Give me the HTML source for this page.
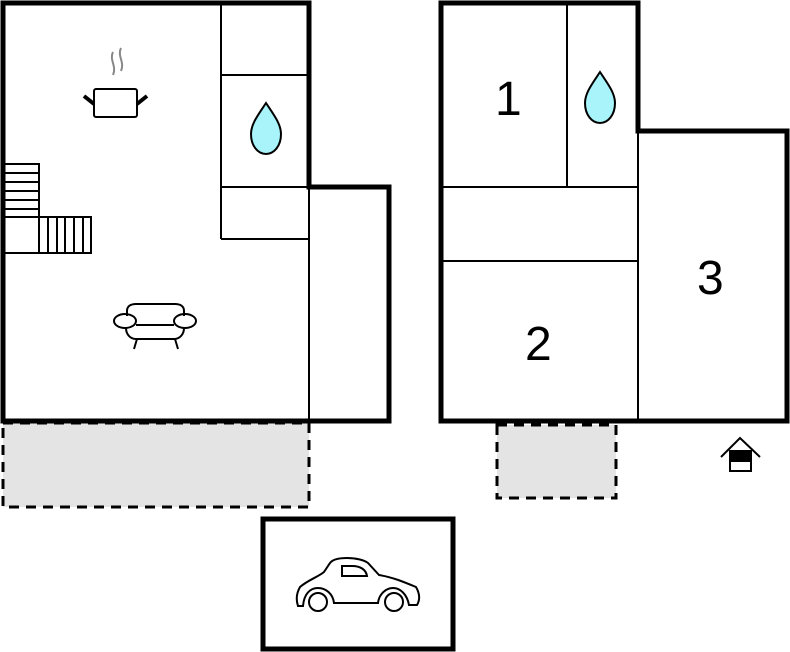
<!DOCTYPE html>
<html><head><style>
html,body{margin:0;padding:0;background:#fff;width:790px;height:652px;overflow:hidden}
svg{display:block}
text{font-family:"Liberation Sans",sans-serif;font-size:48px;fill:#000}
</style></head><body>
<svg width="790" height="652" viewBox="0 0 790 652" xmlns="http://www.w3.org/2000/svg">
<rect x="3" y="423" width="306" height="84" fill="#e4e4e4" stroke="#000" stroke-width="3" stroke-dasharray="10,7"/>
<rect x="497" y="425" width="119" height="73" fill="#e4e4e4" stroke="#000" stroke-width="3" stroke-dasharray="10,7"/>
<g fill="none" stroke="#000">
<g stroke-width="2">
<line x1="221" y1="3" x2="221" y2="239"/>
<line x1="221" y1="75" x2="309" y2="75"/>
<line x1="221" y1="187" x2="309" y2="187"/>
<line x1="221" y1="239" x2="309" y2="239"/>
<line x1="309" y1="187" x2="309" y2="421"/>
<rect x="3" y="164" width="36" height="53"/>
<line x1="3" y1="173" x2="39" y2="173"/>
<line x1="3" y1="182" x2="39" y2="182"/>
<line x1="3" y1="191" x2="39" y2="191"/>
<line x1="3" y1="200" x2="39" y2="200"/>
<line x1="3" y1="209" x2="39" y2="209"/>
<rect x="39" y="217" width="52" height="36"/>
<line x1="3" y1="253" x2="39" y2="253"/>
<line x1="48" y1="217" x2="48" y2="253"/>
<line x1="57" y1="217" x2="57" y2="253"/>
<line x1="65" y1="217" x2="65" y2="253"/>
<line x1="74" y1="217" x2="74" y2="253"/>
<line x1="83" y1="217" x2="83" y2="253"/>
<line x1="567" y1="3" x2="567" y2="187"/>
<line x1="441" y1="187" x2="638" y2="187"/>
<line x1="638" y1="131" x2="638" y2="421"/>
<line x1="441" y1="261" x2="638" y2="261"/>
</g>
<g stroke-width="5">
<path d="M3,3 H309 V187 H389 V421 H3 Z"/>
<path d="M441,3 H638 V131 H787 V421 H441 Z"/>
<rect x="263" y="519" width="190" height="130"/>
</g>
<path d="M266,103 C258,115 251,124 251,134 C251,146 258,154 266,154 C274,154 281,146 281,134 C281,124 274,115 266,103 Z" fill="#a8f4fa" stroke-width="2"/>
<path d="M600,72 C592,84 585,93 585,103 C585,115 592,123 600,123 C608,123 615,115 615,103 C615,93 608,84 600,72 Z" fill="#a8f4fa" stroke-width="2"/>
<path d="M113,52 C109,60 117,66 113,75 M121,48 C117,56 125,62 121,71" stroke="#888" stroke-width="2"/>
<rect x="94" y="89" width="43" height="28" rx="2" stroke-width="2"/>
<line x1="84" y1="96" x2="94" y2="104" stroke-width="4"/>
<line x1="137" y1="104" x2="147" y2="96" stroke-width="4"/>
<g stroke-width="2">
<path d="M127,316 V311 C127,306 131,304 136,304 H175 C180,304 184,306 184,311 V316"/>
<ellipse cx="125" cy="321" rx="11" ry="7"/>
<ellipse cx="185" cy="321" rx="11" ry="7"/>
<path d="M136,325 H174"/>
<path d="M126,328 C126,334 130,339 136,339 H174 C180,339 184,334 184,328"/>
<line x1="137" y1="339" x2="134" y2="349"/>
<line x1="175" y1="339" x2="178" y2="349"/>
</g>
<g stroke-width="2">
<path d="M298,606 C296,600 296,594 300,587 C308,580 318,577 324,572 L330,563 C333,559 340,558 347,558 C356,558 364,560 368,563 L379,575 C392,577 404,582 416,587 C420,594 420,600 417,605 H409 C407,594 400,588 393,588 C386,588 379,594 378,603 H334 C333,594 326,588 318,588 C310,588 304,594 303,606 Z"/>
<circle cx="318" cy="602" r="9"/>
<circle cx="394" cy="602" r="9"/>
<path d="M342,566 H352 C361,566 366,570 367,576 H342 Z"/>
</g>
<g stroke-width="2">
<path d="M721,457 L740,438 L760,457"/>
<rect x="730" y="451" width="21" height="20" fill="#fff"/>
<rect x="730" y="451" width="21" height="10" fill="#000"/>
</g>
</g>
<text x="495" y="115">1</text>
<text x="697" y="294">3</text>
<text x="525" y="360">2</text>
</svg>
</body></html>
